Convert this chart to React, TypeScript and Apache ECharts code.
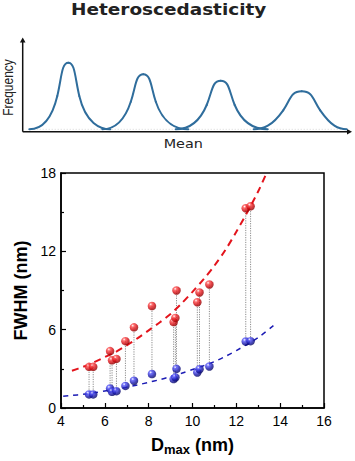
import React, { useEffect, useRef } from "react";
import * as echarts from "echarts";

// ---- data ----
const dmax = [5.28, 5.47, 6.24, 6.33, 6.53, 6.94, 7.33, 8.15, 9.14, 9.22, 9.27, 10.22, 10.32, 10.77, 12.43, 12.65];
const fwhmRed = [3.15, 3.15, 4.36, 3.65, 3.76, 5.12, 6.18, 7.81, 6.58, 6.9, 9.0, 8.1, 8.85, 9.46, 15.3, 15.45];
const fwhmBlue = [1.04, 1.04, 1.49, 1.24, 1.29, 1.69, 2.09, 2.6, 2.22, 2.35, 3.0, 2.72, 2.97, 3.18, 5.09, 5.12];

const redFitX = [4.5, 5, 5.5, 6, 6.5, 7, 7.5, 8, 8.5, 9, 9.5, 10, 10.5, 11, 11.5, 12, 12.5, 13, 13.38];
const redFitY = [2.85, 3.15, 3.5, 3.9, 4.3, 4.8, 5.35, 5.95, 6.55, 7.2, 8.0, 8.9, 9.85, 10.9, 12.1, 13.5, 15.0, 16.6, 18];
const blueFitX = [4.1, 4.5, 5, 5.5, 6, 6.5, 7, 7.5, 8, 8.5, 9, 9.5, 10, 10.5, 11, 11.5, 12, 12.5, 13, 13.72];
const blueFitY = [0.9, 0.96, 1.05, 1.16, 1.3, 1.44, 1.6, 1.77, 1.97, 2.17, 2.4, 2.66, 2.95, 3.24, 3.55, 3.95, 4.4, 4.88, 5.4, 6.35];

const xTicks = { min: 4, max: 16, interval: 2 };
const yTicks = { min: 0, max: 18, interval: 6 };

const titleText = "Heteroscedasticity";
const illYLabel = "Frequency";
const illXLabel = "Mean";

// illustration peaks (schematic shape parameters)
const peaks = [
  { cx: 68.3, h: 66.6, hw: 11, l: 39, r: 42 },
  { cx: 143.3, h: 55, hw: 12.5, l: 41, r: 45 },
  { cx: 220.7, h: 48.6, hw: 14, l: 45, r: 47 },
  { cx: 301.7, h: 38, hw: 18.5, l: 48, r: 45 },
];

function bellElements(baseY: number, color: string) {
  const els: any[] = [];
  peaks.forEach((p) => {
    [-1, 1].forEach((sgn) => {
      const L = sgn < 0 ? p.l : p.r;
      const m = (0.69 * p.h) / p.hw;
      const Ax = p.cx + sgn * L, Ay = baseY;
      const Bx = p.cx + sgn * p.hw, By = baseY - p.h / 2;
      const Cx = p.cx, Cy = baseY - p.h;
      const c = 0.32 * (L - p.hw);
      const e = 0.6 * p.hw;
      const a = 0.4 * p.hw;
      const b = 0.62 * p.hw;
      const style = { stroke: color, lineWidth: 2, fill: null, lineCap: "round" };
      els.push({
        type: "bezierCurve",
        shape: {
          x1: Ax, y1: Ay, x2: Bx, y2: By,
          cpx1: p.cx + sgn * (L - c), cpy1: Ay,
          cpx2: p.cx + sgn * (p.hw + e), cpy2: Math.min(Ay, By + e * m),
        },
        style,
        silent: true,
      });
      els.push({
        type: "bezierCurve",
        shape: {
          x1: Bx, y1: By, x2: Cx, y2: Cy,
          cpx1: p.cx + sgn * (p.hw - a), cpy1: By - a * m,
          cpx2: p.cx + sgn * b, cpy2: Cy,
        },
        style,
        silent: true,
      });
    });
  });
  return els;
}

function ball(main: string, light: string, dark: string) {
  return new echarts.graphic.RadialGradient(0.35, 0.3, 0.75, [
    { offset: 0, color: "#ffffff" },
    { offset: 0.22, color: light },
    { offset: 0.6, color: main },
    { offset: 1, color: dark },
  ]);
}

export default function App() {
  const ref = useRef<HTMLDivElement>(null);
  useEffect(() => {
    document.body.style.margin = "0";
    if (!ref.current) return;
    const chart = echarts.init(ref.current, null, { renderer: "svg" });

    const axisX = 22.7, axisY = 131.7, topY = 37.5, rightX = 352, baseY = 129.3;
    const axisColor = "#111";
    const graphic: any[] = [
      {
        type: "text",
        x: 168.7,
        y: 9.5,
        scaleX: 1.23,
        style: {
          text: titleText,
          fontSize: 15,
          fontWeight: "bold",
          fontFamily: "DejaVu Sans",
          fill: "#222",
          align: "center",
          verticalAlign: "middle",
        },
      },
      {
        type: "line",
        shape: { x1: axisX + 8, y1: baseY, x2: rightX - 8, y2: baseY },
        style: { stroke: "#d6d6d6", lineWidth: 1, lineDash: [1, 2] },
        silent: true,
      },
      {
        type: "line",
        shape: { x1: axisX, y1: axisY, x2: axisX, y2: topY + 3 },
        style: { stroke: axisColor, lineWidth: 1.5 },
      },
      {
        type: "polygon",
        shape: { points: [[axisX, topY], [axisX - 2.8, topY + 5], [axisX + 2.8, topY + 5]] },
        style: { fill: axisColor },
      },
      {
        type: "line",
        shape: { x1: axisX, y1: axisY, x2: rightX - 3, y2: axisY },
        style: { stroke: axisColor, lineWidth: 1.5 },
      },
      {
        type: "polygon",
        shape: { points: [[rightX, axisY], [rightX - 5, axisY - 2.8], [rightX - 5, axisY + 2.8]] },
        style: { fill: axisColor },
      },
      ...bellElements(baseY, "#2f6d9c"),
      {
        type: "text",
        x: 8,
        y: 87.5,
        rotation: Math.PI / 2,
        scaleY: 1.15,
        style: {
          text: illYLabel,
          fontSize: 12,
          fontFamily: "Liberation Sans",
          fill: "#222",
          align: "center",
          verticalAlign: "middle",
        },
      },
      {
        type: "text",
        x: 183.3,
        y: 144.3,
        scaleX: 1.2,
        style: {
          text: illXLabel,
          fontSize: 12,
          fontFamily: "DejaVu Sans",
          fill: "#222",
          align: "center",
          verticalAlign: "middle",
        },
      },
    ];

    const tickLabel = { color: "#000", fontSize: 14, fontFamily: "Liberation Sans, Arial" };

    chart.setOption({
      animation: false,
      backgroundColor: "#fff",
      graphic,
      grid: {
        left: 61,
        right: 31,
        top: 173,
        bottom: 50,
        show: true,
        borderColor: "#000",
        borderWidth: 1.5,
        backgroundColor: "transparent",
      },
      xAxis: {
        type: "value",
        min: xTicks.min,
        max: xTicks.max,
        interval: xTicks.interval,
        axisLine: { lineStyle: { color: "#000", width: 1.5 } },
        axisTick: { inside: true, length: 5, lineStyle: { color: "#000", width: 1.2 } },
        minorTick: { show: true, splitNumber: 2, length: 3, lineStyle: { color: "#000", width: 1.2 } },
        splitLine: { show: false },
        axisLabel: { ...tickLabel, margin: 6 },
        name: "{a|D}{b|max}{a| (nm)}",
        nameLocation: "middle",
        nameGap: 26,
        nameTextStyle: {
          rich: {
            a: { fontSize: 18, fontWeight: "bold", fontFamily: "Liberation Sans, Arial", color: "#000", lineHeight: 22 },
            b: { fontSize: 13, fontWeight: "bold", fontFamily: "Liberation Sans, Arial", color: "#000", lineHeight: 14, verticalAlign: "bottom" },
          },
        },
      },
      yAxis: {
        type: "value",
        min: yTicks.min,
        max: yTicks.max,
        interval: yTicks.interval,
        axisLine: { show: true, lineStyle: { color: "#000", width: 1.5 } },
        axisTick: { show: true, inside: true, length: 5, lineStyle: { color: "#000", width: 1.2 } },
        minorTick: { show: true, splitNumber: 2, length: 3, lineStyle: { color: "#000", width: 1.2 } },
        splitLine: { show: false },
        axisLabel: { ...tickLabel, margin: 5 },
        name: "FWHM (nm)",
        nameLocation: "middle",
        nameGap: 24,
        nameTextStyle: { fontSize: 18, fontWeight: "bold", fontFamily: "Liberation Sans, Arial", color: "#000" },
      },
      series: [
        {
          type: "custom",
          data: dmax.map((x, i) => [x, fwhmRed[i], fwhmBlue[i]]),
          encode: { x: 0, y: [1, 2] },
          z: 1,
          silent: true,
          renderItem: (params: any, api: any) => {
            const p1 = api.coord([api.value(0), api.value(1)]);
            const p2 = api.coord([api.value(0), api.value(2)]);
            return {
              type: "line",
              shape: { x1: p1[0], y1: p1[1], x2: p2[0], y2: p2[1] },
              style: { stroke: "#8c8c8c", lineWidth: 1, lineDash: [1.2, 1.2] },
            };
          },
        },
        {
          type: "line",
          data: redFitX.map((x, i) => [x, redFitY[i]]),
          smooth: 0.3,
          showSymbol: false,
          symbol: "none",
          z: 2,
          lineStyle: { color: "#e3141c", width: 2, type: [7, 5] },
        },
        {
          type: "line",
          data: blueFitX.map((x, i) => [x, blueFitY[i]]),
          smooth: 0.3,
          showSymbol: false,
          symbol: "none",
          z: 2,
          lineStyle: { color: "#1c1cb4", width: 1.5, type: [5, 5] },
        },
        {
          type: "scatter",
          data: dmax.map((x, i) => [x, fwhmBlue[i]]),
          symbolSize: 8.5,
          z: 3,
          itemStyle: { color: ball("#1a1ab0", "#5a5aff", "#05055a") },
        },
        {
          type: "scatter",
          data: dmax.map((x, i) => [x, fwhmRed[i]]),
          symbolSize: 8.5,
          z: 3,
          itemStyle: { color: ball("#d60c12", "#ff5050", "#860000") },
        },
      ],
    });
    return () => chart.dispose();
  }, []);
  return (
    <div
      ref={ref}
      style={{ position: "absolute", left: 0, top: 0, width: 355, height: 461, background: "#fff" }}
    />
  );
}
